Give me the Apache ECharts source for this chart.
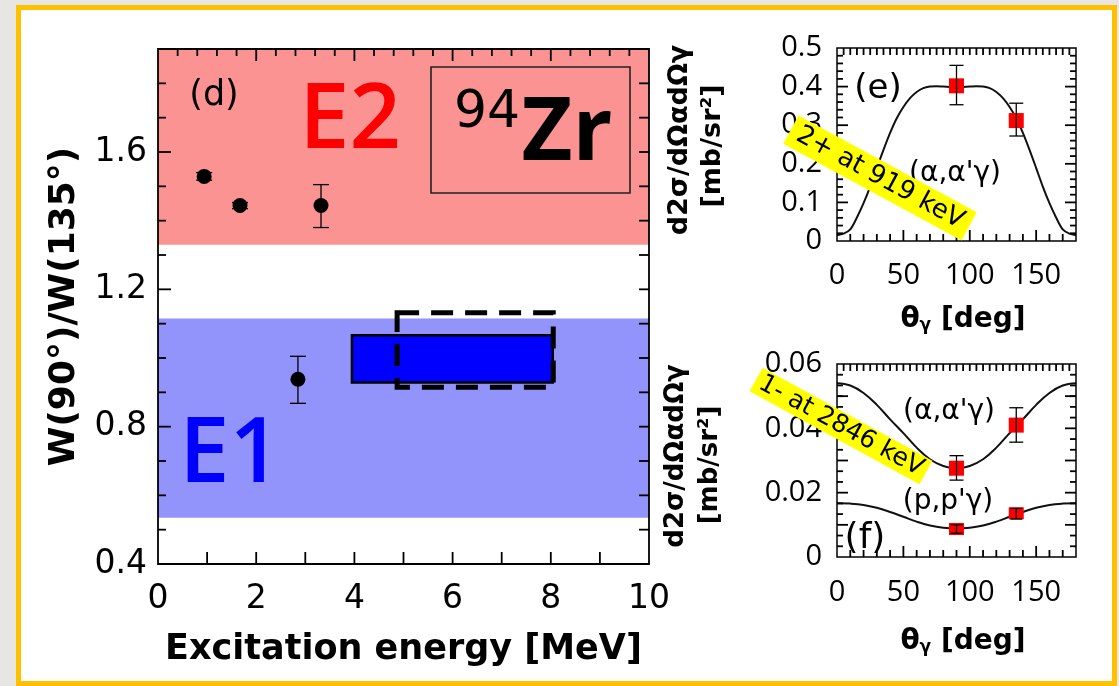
<!DOCTYPE html>
<html><head><meta charset="utf-8">
<script src="https://cdn.jsdelivr.net/npm/echarts@6/dist/echarts.min.js"></script>
<style>
html,body{margin:0;padding:0;background:#e8e6e3;width:1119px;height:686px;overflow:hidden}
#frame{position:absolute;left:16px;top:5px;width:1101px;height:681px;box-sizing:border-box;border:5px solid #ffc000;background:#fff}
#chart{position:absolute;left:0;top:0;width:1119px;height:686px}
</style></head><body><div id="frame"></div><div id="chart"></div>
<script>
// ---------- panel (d): W(90)/W(135) vs excitation energy ----------
const energyPoints = [[0.94, 1.529], [1.67, 1.444], [3.32, 1.444], [2.85, 0.938]];
const energyErrors = [[0.94, 1.518, 1.540], [1.67, 1.435, 1.453], [3.32, 1.38, 1.505], [2.85, 0.868, 1.005]];
const bandE2 = [0, 10, 1.33, 1.9];
const bandE1 = [0, 10, 0.535, 1.115];
const boxSolid = [3.95, 8.04, 0.929, 1.066];
const boxDashed = [4.87, 8.05, 0.915, 1.132];
const mainXTickLabels = [0, 2, 4, 6, 8, 10];
const mainYTickLabels = [0.4, 0.8, 1.2, 1.6];
const mainExtent = [0, 10, 0.4, 1.9];

// ---------- panels (e) and (f): angular distributions ----------
const thetaE = [0, 5, 10, 15, 20, 25, 30, 35, 40, 45, 50, 55, 60, 65, 70, 75, 80, 85, 90,
  95, 100, 105, 110, 115, 120, 125, 130, 135, 140, 145, 150, 155, 160, 165, 170, 175, 180];
const curveE = [0.015, 0.019, 0.030, 0.061, 0.098, 0.141, 0.189, 0.236, 0.280, 0.318, 0.347, 0.370, 0.386, 0.396, 0.400, 0.401, 0.400, 0.399, 0.398,
  0.399, 0.400, 0.401, 0.400, 0.396, 0.386, 0.370, 0.347, 0.318, 0.280, 0.236, 0.189, 0.141, 0.098, 0.061, 0.030, 0.019, 0.015];
const theta = [0, 10, 20, 30, 40, 50, 60, 70, 80, 90, 100, 110, 120, 130, 140, 150, 160, 170, 180];
const curveFalpha = [0.0540, 0.0533, 0.0510, 0.0473, 0.0428, 0.0385, 0.0340, 0.0304, 0.0283, 0.0276, 0.0283, 0.0304, 0.0340, 0.0385, 0.0428, 0.0473, 0.0510, 0.0533, 0.0540];
const curveFp = [0.0167, 0.0166, 0.0162, 0.0153, 0.0140, 0.0125, 0.0110, 0.0098, 0.0091, 0.0089, 0.0091, 0.0098, 0.0110, 0.0125, 0.0140, 0.0153, 0.0162, 0.0166, 0.0167];
const pointsE = [[90, 0.402], [135, 0.312]];
const errorsE = [[90, 0.353, 0.455], [135, 0.272, 0.357]];
const pointsFalpha = [[90, 0.0276], [135, 0.0410]];
const errorsFalpha = [[90, 0.0239, 0.0315], [135, 0.0357, 0.0464]];
const pointsFp = [[90, 0.0087], [135, 0.0136]];
const errorsFp = [[90, 0.0074, 0.0100], [135, 0.0118, 0.0151]];
const angleTickLabels = [0, 50, 100, 150];
const eExtent = [0, 180, 0, 0.5];
const fExtent = [0, 180, 0, 0.06];

// ---------- tick positions ----------
function rng(a, b, s) { const r = []; for (let i = 0; a + i * s <= b + 1e-9; i++) r.push(+(a + i * s).toFixed(6)); return r; }
function without(arr, ex) { return arr.filter(v => !ex.some(e => Math.abs(e - v) < 1e-9)); }
const mainBottomTicks = rng(1, 9, 1);
const mainTopMajor = [2, 4, 6, 8];
const mainTopMinor = without(rng(0.4, 9.6, 0.4), mainTopMajor);
const mainLeftMajor = [0.8, 1.2, 1.6];
const mainLeftMinor = without(rng(0.5, 1.8, 0.1), mainLeftMajor);
const mainRightTicks = rng(0.5, 1.8, 0.1);
const angMajor = [50, 100, 150];
const angBottomMinor = without(rng(10, 170, 10), angMajor);
const angTop = rng(5, 175, 5);
const eMajor = [0.1, 0.2, 0.3, 0.4];
const eMinor = without(rng(0.02, 0.48, 0.02), eMajor);
const fMajor = [0.01, 0.02, 0.03, 0.04, 0.05];
const fMinor = without(rng(0.0033333, 0.057, 0.0033333), fMajor);

const FONT = 'DejaVu Sans';
const FONT2 = 'Open Sans';

function rectItem(style) {
  return function (params, api) {
    const p0 = api.coord([api.value(0), api.value(3)]);
    const p1 = api.coord([api.value(1), api.value(2)]);
    return { type: 'rect', shape: { x: p0[0], y: p0[1], width: p1[0] - p0[0], height: p1[1] - p0[1] }, style: style };
  };
}
function errItem(capW, lw) {
  return function (params, api) {
    const x = api.value(0);
    const lo = api.coord([x, api.value(1)]);
    const hi = api.coord([x, api.value(2)]);
    const st = { stroke: '#000', lineWidth: lw };
    return { type: 'group', children: [
      { type: 'line', shape: { x1: lo[0], y1: lo[1], x2: hi[0], y2: hi[1] }, style: st },
      { type: 'line', shape: { x1: lo[0] - capW, y1: lo[1], x2: lo[0] + capW, y2: lo[1] }, style: st },
      { type: 'line', shape: { x1: hi[0] - capW, y1: hi[1], x2: hi[0] + capW, y2: hi[1] }, style: st }
    ] };
  };
}
// all ticks of one side drawn as a single path element
function tickGroup(side, len, ext, values) {
  return function (params, api) {
    const children = values.map(function (v) {
      let p, q;
      if (side === 'bottom') { p = api.coord([v, ext[2]]); q = [p[0], p[1] - len]; }
      else if (side === 'top') { p = api.coord([v, ext[3]]); q = [p[0], p[1] + len]; }
      else if (side === 'left') { p = api.coord([ext[0], v]); q = [p[0] + len, p[1]]; }
      else { p = api.coord([ext[1], v]); q = [p[0] - len, p[1]]; }
      return { type: 'line', shape: { x1: p[0], y1: p[1], x2: q[0], y2: q[1] }, style: { stroke: '#000', lineWidth: 1.8 } };
    });
    return { type: 'group', children: children };
  };
}
function ticks(xi, yi, side, len, ext, values) {
  return { type: 'custom', xAxisIndex: xi, yAxisIndex: yi, zlevel: 1, z: 9, silent: true, clip: false,
    renderItem: tickGroup(side, len, ext, values), data: [[ext[0], ext[2]]] };
}
function frame(xi, yi, ext, lw) {
  return { type: 'custom', xAxisIndex: xi, yAxisIndex: yi, zlevel: 1, z: 9, silent: true, clip: false,
    renderItem: rectItem({ fill: 'none', stroke: '#000', lineWidth: lw }), data: [ext] };
}
function axis(o) {
  const base = {
    type: 'value', z: 5,
    splitLine: { show: false },
    axisLine: { show: false, onZero: false },
    axisTick: { show: false },
    axisLabel: { show: false }
  };
  return Object.assign(base, o);
}
const lblMain = { show: true, color: '#000', fontFamily: FONT, fontSize: 33 };
const lblSmall = { show: true, color: '#000', fontFamily: FONT2, fontSize: 29 };

const chart = echarts.init(document.getElementById('chart'), null, { renderer: 'canvas' });
const option = {
  animation: false,
  grid: [
    { left: 158, top: 49, width: 491, height: 515 },
    { left: 837, top: 48, width: 239, height: 193 },
    { left: 837, top: 364, width: 239, height: 193 }
  ],
  xAxis: [
    axis({ gridIndex: 0, position: 'bottom', min: mainExtent[0], max: mainExtent[1], interval: 1,
      axisLabel: Object.assign({}, lblMain, { margin: 19, formatter: v => mainXTickLabels.indexOf(v) >= 0 ? String(v) : '' }),
      name: 'Excitation energy [MeV]', nameLocation: 'middle', nameGap: 68,
      nameTextStyle: { fontFamily: FONT, fontWeight: 'bold', fontSize: 35, color: '#000' } }),
    axis({ gridIndex: 1, position: 'bottom', min: eExtent[0], max: eExtent[1], interval: 10,
      axisLabel: Object.assign({}, lblSmall, { margin: 20, formatter: v => angleTickLabels.indexOf(v) >= 0 ? String(v) : '' }) }),
    axis({ gridIndex: 2, position: 'bottom', min: fExtent[0], max: fExtent[1], interval: 10,
      axisLabel: Object.assign({}, lblSmall, { margin: 21, formatter: v => angleTickLabels.indexOf(v) >= 0 ? String(v) : '' }) })
  ],
  yAxis: [
    axis({ gridIndex: 0, position: 'left', min: mainExtent[2], max: mainExtent[3], interval: 0.4,
      axisLabel: Object.assign({}, lblMain, { margin: 11, showMaxLabel: false,
        formatter: v => mainYTickLabels.some(t => Math.abs(t - v) < 1e-6) ? v.toFixed(1) : '' }),
      name: 'W(90°)/W(135°)', nameLocation: 'middle', nameGap: 75,
      nameTextStyle: { fontFamily: FONT, fontWeight: 'bold', fontSize: 36, color: '#000' } }),
    axis({ gridIndex: 1, position: 'left', min: eExtent[2], max: eExtent[3], interval: 0.1,
      axisLabel: Object.assign({}, lblSmall, { margin: 15, formatter: v => String(+v.toFixed(1)) }) }),
    axis({ gridIndex: 2, position: 'left', min: fExtent[2], max: fExtent[3], interval: 0.02,
      axisLabel: Object.assign({}, lblSmall, { margin: 15, formatter: v => String(+v.toFixed(2)) }) })
  ],
  series: [
    { type: 'custom', xAxisIndex: 0, yAxisIndex: 0, z: 1, renderItem: rectItem({ fill: '#fc9393' }), data: [bandE2] },
    { type: 'custom', xAxisIndex: 0, yAxisIndex: 0, z: 1, renderItem: rectItem({ fill: '#9393fc' }), data: [bandE1] },
    { type: 'custom', xAxisIndex: 0, yAxisIndex: 0, z: 3, renderItem: rectItem({ fill: '#0000ff', stroke: '#000', lineWidth: 2.5 }), data: [boxSolid] },
    { type: 'custom', xAxisIndex: 0, yAxisIndex: 0, z: 4, renderItem: rectItem({ fill: 'none', stroke: '#000', lineWidth: 5, lineDash: [22, 12] }), data: [boxDashed] },
    { type: 'custom', xAxisIndex: 0, yAxisIndex: 0, z: 6, renderItem: errItem(8, 1.3), data: energyErrors },
    { type: 'scatter', xAxisIndex: 0, yAxisIndex: 0, z: 7, symbol: 'circle', symbolSize: 15, itemStyle: { color: '#000', opacity: 1 }, data: energyPoints },

    { type: 'line', xAxisIndex: 1, yAxisIndex: 1, z: 3, smooth: 0.3, symbol: 'none', lineStyle: { color: '#111', width: 2 },
      data: thetaE.map((t, i) => [t, curveE[i]]) },
    { type: 'scatter', xAxisIndex: 1, yAxisIndex: 1, z: 6, symbol: 'rect', symbolSize: 15, itemStyle: { color: '#ff0000', opacity: 1 }, data: pointsE },
    { type: 'custom', xAxisIndex: 1, yAxisIndex: 1, z: 7, renderItem: errItem(7, 1.3), data: errorsE },

    { type: 'line', xAxisIndex: 2, yAxisIndex: 2, z: 3, smooth: 0.4, symbol: 'none', lineStyle: { color: '#111', width: 2 },
      data: theta.map((t, i) => [t, curveFalpha[i]]) },
    { type: 'line', xAxisIndex: 2, yAxisIndex: 2, z: 3, smooth: 0.4, symbol: 'none', lineStyle: { color: '#111', width: 2 },
      data: theta.map((t, i) => [t, curveFp[i]]) },
    { type: 'scatter', xAxisIndex: 2, yAxisIndex: 2, z: 6, symbol: 'rect', symbolSize: 15, itemStyle: { color: '#ff0000', opacity: 1 }, data: pointsFalpha },
    { type: 'scatter', xAxisIndex: 2, yAxisIndex: 2, z: 6, symbol: 'rect', symbolSize: [15, 12], itemStyle: { color: '#ff0000', opacity: 1 }, data: pointsFp },
    { type: 'custom', xAxisIndex: 2, yAxisIndex: 2, z: 7, renderItem: errItem(7, 1.3), data: errorsFalpha },
    { type: 'custom', xAxisIndex: 2, yAxisIndex: 2, z: 7, renderItem: errItem(6, 1.3), data: errorsFp },

    // frames and ticks
    frame(0, 0, mainExtent, 1.8),
    ticks(0, 0, 'bottom', 12, mainExtent, mainBottomTicks),
    ticks(0, 0, 'top', 12, mainExtent, mainTopMajor),
    ticks(0, 0, 'top', 7, mainExtent, mainTopMinor),
    ticks(0, 0, 'left', 13, mainExtent, mainLeftMajor),
    ticks(0, 0, 'left', 8, mainExtent, mainLeftMinor),
    ticks(0, 0, 'right', 10, mainExtent, mainRightTicks),

    frame(1, 1, eExtent, 1.5),
    ticks(1, 1, 'bottom', 11, eExtent, angMajor),
    ticks(1, 1, 'bottom', 7, eExtent, angBottomMinor),
    ticks(1, 1, 'top', 7, eExtent, angTop),
    ticks(1, 1, 'left', 11, eExtent, eMajor),
    ticks(1, 1, 'left', 6, eExtent, eMinor),
    ticks(1, 1, 'right', 11, eExtent, eMajor),
    ticks(1, 1, 'right', 6, eExtent, eMinor),

    frame(2, 2, fExtent, 1.5),
    ticks(2, 2, 'bottom', 11, fExtent, angMajor),
    ticks(2, 2, 'bottom', 7, fExtent, angBottomMinor),
    ticks(2, 2, 'top', 7, fExtent, angTop),
    ticks(2, 2, 'left', 11, fExtent, fMajor),
    ticks(2, 2, 'left', 6, fExtent, fMinor),
    ticks(2, 2, 'right', 11, fExtent, fMajor),
    ticks(2, 2, 'right', 6, fExtent, fMinor)
  ],
  graphic: [
    { type: 'text', x: 214, y: 96, z: 50, style: { text: '(d)', font: '35px "DejaVu Sans"', fill: '#000', align: 'center', verticalAlign: 'middle' } },
    { type: 'text', x: 350, y: 122, z: 50, style: { text: 'E2', font: '600 90px "Open Sans"', fill: '#ff0000', align: 'center', verticalAlign: 'middle' } },
    { type: 'text', x: 230, y: 456, z: 50, style: { text: 'E1', font: '600 90px "Open Sans"', fill: '#0000ff', align: 'center', verticalAlign: 'middle' } },
    { type: 'rect', z: 50, shape: { x: 431, y: 67, width: 199, height: 126 }, style: { fill: 'none', stroke: '#222', lineWidth: 1.6 } },
    { type: 'text', x: 487, y: 113, z: 50, style: { text: '94', font: '52px "DejaVu Sans"', fill: '#000', align: 'center', verticalAlign: 'middle' } },
    { type: 'text', x: 567, y: 135, z: 50, style: { text: 'Zr', font: 'bold 88px "Open Sans"', fill: '#000', align: 'center', verticalAlign: 'middle' } },

    { type: 'text', x: 680, y: 140, z: 50, rotation: Math.PI / 2, style: { text: 'd2σ/dΩαdΩγ', font: 'bold 27px "DejaVu Sans"', fill: '#000', align: 'center', verticalAlign: 'middle' } },
    { type: 'text', x: 713, y: 146, z: 50, rotation: Math.PI / 2, style: { text: '[mb/sr²]', font: 'bold 27px "DejaVu Sans"', fill: '#000', align: 'center', verticalAlign: 'middle' } },
    { type: 'text', x: 676, y: 456, z: 50, rotation: Math.PI / 2, style: { text: 'd2σ/dΩαdΩγ', font: 'bold 26px "DejaVu Sans"', fill: '#000', align: 'center', verticalAlign: 'middle' } },
    { type: 'text', x: 710, y: 465, z: 50, rotation: Math.PI / 2, style: { text: '[mb/sr²]', font: 'bold 26px "DejaVu Sans"', fill: '#000', align: 'center', verticalAlign: 'middle' } },

    { type: 'text', x: 878, y: 89, z: 50, style: { text: '(e)', font: '34px "DejaVu Sans"', fill: '#000', align: 'center', verticalAlign: 'middle' } },
    { type: 'text', x: 955, y: 174, z: 50, style: { text: "(α,α'γ)", font: '28px "DejaVu Sans"', fill: '#000', align: 'center', verticalAlign: 'middle' } },
    { type: 'text', x: 865, y: 539, z: 50, style: { text: '(f)', font: '36px "DejaVu Sans"', fill: '#000', align: 'center', verticalAlign: 'middle' } },
    { type: 'text', x: 949, y: 412, z: 50, style: { text: "(α,α'γ)", font: '28px "DejaVu Sans"', fill: '#000', align: 'center', verticalAlign: 'middle' } },
    { type: 'text', x: 948, y: 502, z: 50, style: { text: "(p,p'γ)", font: '28px "DejaVu Sans"', fill: '#000', align: 'center', verticalAlign: 'middle' } },

    { type: 'text', x: 963, y: 320, z: 50, style: { text: '{a|θ}{b|γ}{a| [deg]}', align: 'center', verticalAlign: 'middle',
      rich: { a: { fontFamily: FONT, fontWeight: 'bold', fontSize: 28, color: '#000' }, b: { fontFamily: FONT, fontWeight: 'bold', fontSize: 17, color: '#000', verticalAlign: 'bottom', padding: [10, 0, 0, 0] } } } },
    { type: 'text', x: 963, y: 642, z: 50, style: { text: '{a|θ}{b|γ}{a| [deg]}', align: 'center', verticalAlign: 'middle',
      rich: { a: { fontFamily: FONT, fontWeight: 'bold', fontSize: 28, color: '#000' }, b: { fontFamily: FONT, fontWeight: 'bold', fontSize: 17, color: '#000', verticalAlign: 'bottom', padding: [10, 0, 0, 0] } } } },

    { type: 'text', x: 880, y: 178, zlevel: 2, z: 100, rotation: -28.5 * Math.PI / 180, style: { text: '2+ at 919 keV', font: '26px "DejaVu Sans"', lineHeight: 26, fill: '#000', backgroundColor: '#ffff00', padding: [3, 8], align: 'center', verticalAlign: 'middle' } },
    { type: 'text', x: 841, y: 426, zlevel: 2, z: 100, rotation: -28.7 * Math.PI / 180, style: { text: '1- at 2846 keV', font: '25px "DejaVu Sans"', lineHeight: 25, fill: '#000', backgroundColor: '#ffff00', padding: [1, 5], align: 'center', verticalAlign: 'middle' } }
  ]
};
chart.setOption(option);
</script></body></html>
